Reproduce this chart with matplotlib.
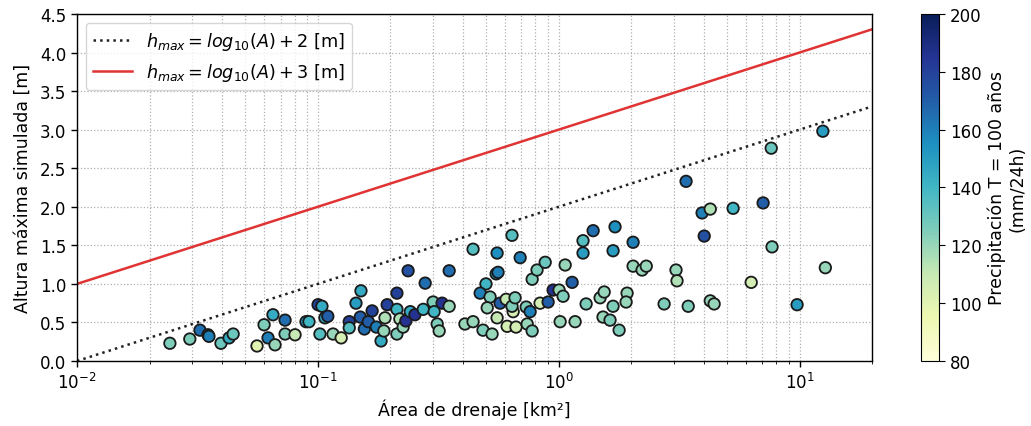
import numpy as np
import matplotlib
matplotlib.use("Agg")
import matplotlib.pyplot as plt

# Drainage area [km2]
area = [0.0243, 0.0294, 0.0324, 0.035, 0.0353, 0.0396, 0.0428, 0.0445, 0.0559, 0.0598,
        0.0621, 0.0651, 0.0664,
        0.0731, 0.0731, 0.0804, 0.0893, 0.0919, 0.1002, 0.104, 0.107, 0.110, 0.102,
        0.1156, 0.125, 0.135, 0.135, 0.144, 0.151, 0.150, 0.156, 0.162, 0.168, 0.175,
        0.183, 0.188, 0.190, 0.194, 0.213, 0.213, 0.213, 0.219, 0.226, 0.232, 0.237,
        0.242, 0.253, 0.274, 0.279, 0.301, 0.304, 0.313, 0.319, 0.328, 0.351, 0.351,
        0.408,
        0.441, 0.441, 0.485, 0.499, 0.472, 0.519, 0.505, 0.529, 0.555, 0.550, 0.560,
        0.555, 0.571, 0.605, 0.611, 0.640, 0.647, 0.640, 0.659, 0.665, 0.692, 0.733,
        0.740, 0.761, 0.776, 0.776, 0.813, 0.837, 0.879, 0.904, 0.948, 1.004, 1.043,
        1.014, 1.064, 1.137, 1.170, 1.30, 1.262, 1.262, 1.390, 1.486, 1.545, 1.528,
        1.634, 1.682, 1.714, 1.682, 1.782, 1.923, 1.905, 2.037, 2.037, 2.22, 2.31,
        3.07, 3.10, 2.74, 3.45, 3.38, 3.94, 4.26, 4.02, 4.26, 4.42, 5.30, 6.30, 7.06,
        7.63, 7.69, 9.77, 12.5, 12.8]

# Simulated maximum height [m]
hmax = [0.23, 0.285, 0.40, 0.34, 0.32, 0.23, 0.30, 0.35, 0.195, 0.47,
        0.30, 0.60, 0.21,
        0.53, 0.35, 0.34, 0.51, 0.51, 0.73, 0.71, 0.56, 0.58, 0.35,
        0.35, 0.30, 0.51, 0.43, 0.75, 0.91, 0.57, 0.415, 0.51, 0.65, 0.44,
        0.26, 0.39, 0.56, 0.73, 0.67, 0.88, 0.35, 0.545, 0.44, 0.52, 1.17,
        0.64, 0.60, 0.67, 1.01, 0.765, 0.64, 0.48, 0.39, 0.75, 0.71, 1.17,
        0.48,
        0.51, 1.45, 0.40, 1.00, 0.88, 0.83, 0.69, 0.35, 1.40, 1.13, 1.15,
        0.56, 0.75, 0.80, 0.45, 1.63, 0.64, 0.71, 0.82, 0.44, 1.34, 0.70,
        0.48, 0.64, 0.39, 1.06, 1.18, 0.75, 1.28, 0.765, 0.92, 0.92, 0.84,
        0.51, 1.245, 1.02, 0.51, 0.74, 1.56, 1.40, 1.69, 0.82, 0.895, 0.57,
        0.53, 0.71, 1.74, 1.43, 0.40, 0.88, 0.765, 1.54, 1.23, 1.18, 1.23,
        1.18, 1.04, 0.74, 0.71, 2.33, 1.92, 1.97, 1.62, 0.78, 0.74, 1.98, 1.02, 2.05,
        2.76, 1.48, 0.73, 2.98, 1.21]

# Precipitation T = 100 years [mm/24h]
precip = [125, 125, 165, 165, 160, 130, 145, 130, 100, 125,
          160, 145, 120,
          165, 125, 110, 150, 140, 180, 145, 145, 170, 135,
          120, 105, 180, 135, 150, 145, 170, 165, 170, 180, 160,
          145, 120, 115, 180, 140, 180, 125, 115, 120, 185, 175,
          145, 185, 140, 165, 125, 140, 125, 120, 185, 120, 165,
          120,
          120, 135, 125, 140, 160, 125, 120, 120, 155, 150, 160,
          110, 170, 110, 105, 135, 105, 125, 125, 105, 160, 125,
          120, 160, 125, 125, 125, 105, 130, 170, 185, 120, 125,
          120, 120, 170, 120, 125, 135, 150, 165, 120, 120, 120,
          125, 125, 155, 150, 125, 120, 120, 160, 120, 120, 120,
          120, 115, 125, 125, 165, 160, 115, 175, 120, 120, 140, 105, 170,
          130, 125, 150, 150, 120]

x_range = [0.01, 20]

fig = plt.figure(figsize=(10.31, 4.27), dpi=100)
ax = fig.add_axes([0.0747, 0.1522, 0.7711, 0.8127])
cax = fig.add_axes([0.8933, 0.1522, 0.0175, 0.8127])

xl = np.logspace(np.log10(x_range[0]), np.log10(x_range[1]), 200)
ax.plot(xl, np.log10(xl) + 2, ls=':', color='#222222', lw=1.8,
        label=r'$h_{max} = log_{10}(A) + 2$ [m]')
ax.plot(xl, np.log10(xl) + 3, ls='-', color='#e03333', lw=1.8,
        label=r'$h_{max} = log_{10}(A) + 3$ [m]')

sc = ax.scatter(area, hmax, c=precip, cmap='YlGnBu', vmin=80, vmax=200,
                s=68, edgecolors='#1a1a1a', linewidths=1.3, zorder=3)

ax.set_xscale('log')
ax.set_xlim(x_range)
ax.set_ylim(0, 4.5)
ax.set_yticks(np.arange(0, 4.51, 0.5))
ax.grid(True, which='both', axis='x', ls=':', color='#b0b0b0', lw=0.9)
ax.grid(True, which='major', axis='y', ls=':', color='#b0b0b0', lw=0.9)
ax.set_axisbelow(True)
ax.set_xlabel('Área de drenaje [km²]', fontsize=12.5, labelpad=5)
ax.set_ylabel('Altura máxima simulada [m]', fontsize=12.5, labelpad=6)
ax.tick_params(labelsize=12, length=4.2, width=1.0)
ax.tick_params(which='minor', length=2.4)
for s in ax.spines.values():
    s.set_linewidth(1.0)
ax.legend(loc='upper left', fontsize=12.7, handlelength=2.2, framealpha=0.8)

cb = fig.colorbar(sc, cax=cax)
cb.set_label('Precipitación T = 100 años\n(mm/24h)', fontsize=12.5)
cb.ax.tick_params(labelsize=12, length=4.2)

fig.savefig('out.png', dpi=100)
